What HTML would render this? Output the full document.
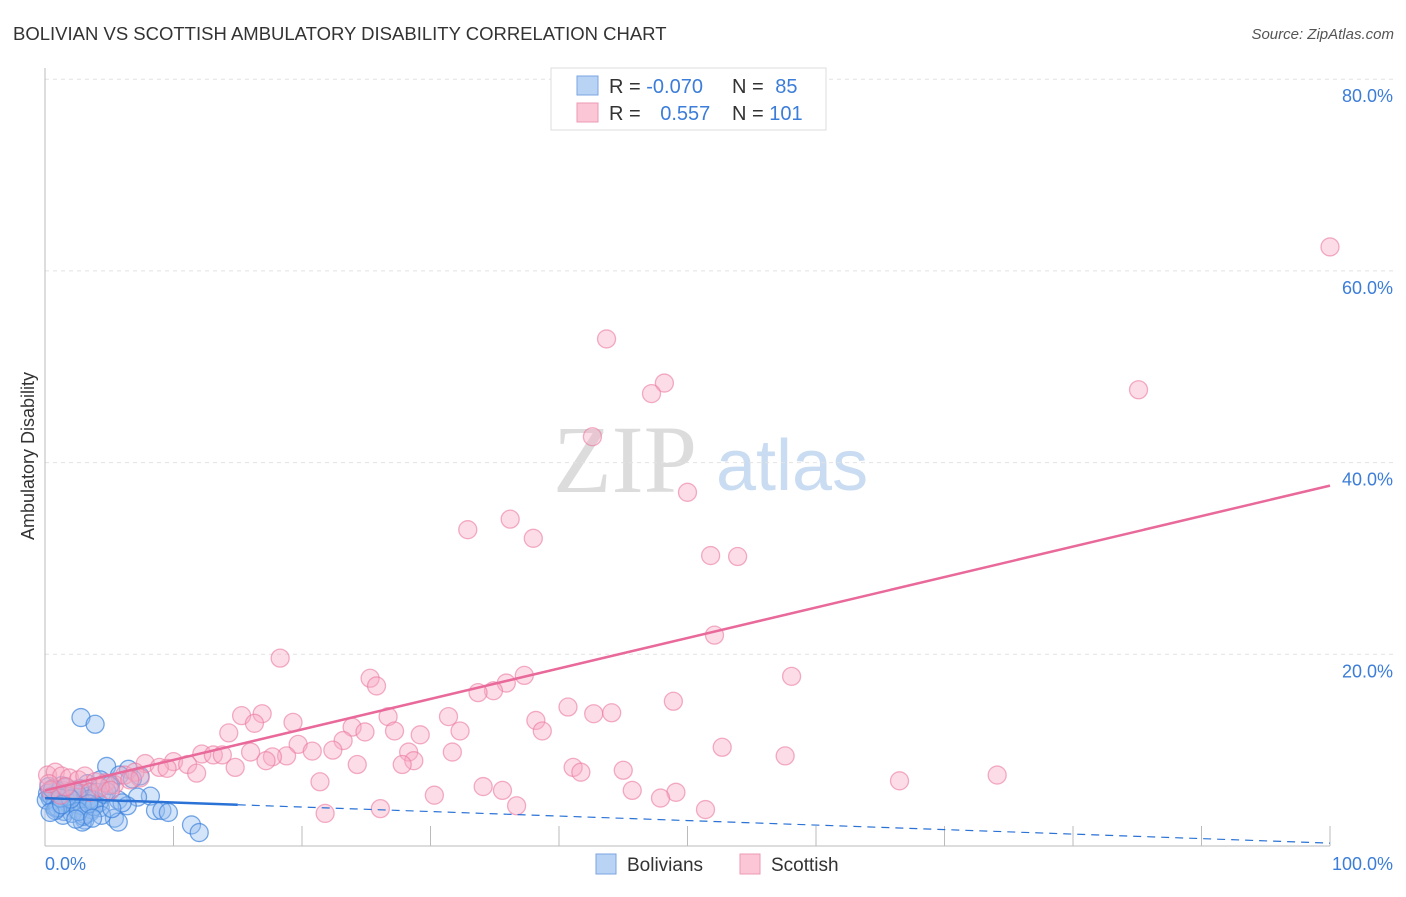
<!DOCTYPE html>
<html><head><meta charset="utf-8"><style>
body{margin:0;background:#fff;font-family:"Liberation Sans",sans-serif}
</style></head><body>
<svg id="chart" width="1406" height="892" xmlns="http://www.w3.org/2000/svg" font-family="Liberation Sans, sans-serif">
<text x="13" y="40" font-size="18.5" fill="#333">BOLIVIAN VS SCOTTISH AMBULATORY DISABILITY CORRELATION CHART</text>
<text x="1394" y="39" font-size="15" fill="#555" font-style="italic" text-anchor="end">Source: ZipAtlas.com</text>
<g>
<text x="553" y="492" font-size="96" font-family="Liberation Serif, serif" fill="#dcdcdc">ZIP</text>
<text x="716" y="490" font-size="72" fill="#c9dcf2">atlas</text>
</g>
<g id="grid"></g>
<g id="axes"></g>
<g id="pts"></g>
<g id="lines"></g>
<text transform="translate(34,456) rotate(-90)" font-size="18" fill="#333" text-anchor="middle">Ambulatory Disability</text>
<text x="45" y="870" font-size="18" fill="#3b7dd8">0.0%</text>
<text x="1393" y="870" font-size="18" fill="#3b7dd8" text-anchor="end">100.0%</text>
<g>
<rect x="551" y="68" width="275" height="62" fill="#fff" stroke="#ddd"/>
<rect x="577" y="76" width="21" height="19" fill="#b9d3f5" stroke="#7aa6e0"/>
<rect x="577" y="103" width="21" height="19" fill="#fbc6d5" stroke="#ee9ab5"/>
<text x="609" y="93" font-size="20" fill="#333">R = <tspan fill="#3b7dd8">-0.070</tspan></text>
<text x="732" y="93" font-size="20" fill="#333">N = <tspan fill="#3b7dd8" dx="6">85</tspan></text>
<text x="609" y="120" font-size="20" fill="#333">R = <tspan fill="#3b7dd8" dx="14">0.557</tspan></text>
<text x="732" y="120" font-size="20" fill="#333">N = <tspan fill="#3b7dd8">101</tspan></text>
</g>
<g>
<rect x="596" y="854" width="20" height="20" fill="#b9d3f5" stroke="#7aa6e0"/>
<text x="627" y="871" font-size="19" fill="#333">Bolivians</text>
<rect x="740" y="854" width="20" height="20" fill="#fbc6d5" stroke="#ee9ab5"/>
<text x="771" y="871" font-size="19" fill="#333">Scottish</text>
</g>
</svg>
<script>
const yTicks=[20,40,60,80];
const yTickLabels=["20.0%","40.0%","60.0%","80.0%"];
const xTicks=[10,20,30,40,50,60,70,80,90,100];
const scottishX=[100,43.7,48.2,47.2,85.1,42.6,50,36.2,32.9,38,51.8,53.9,52.1,18.3,37.3,58.1,25.3,25.8,35.9,34.9,33.7,48.9,40.7,16.9,15.3,42.7,44.1,31.4,26.7,16.3,19.3,38.2,23.9,14.3,32.3,38.7,24.9,27.2,29.2,23.2,19.7,22.4,20.8,52.7,57.6,31.7,28.3,16,12.2,13.1,13.8,18.8,17.7,17.2,28.7,27.8,24.3,10,11.1,7.8,8.9,14.8,11.8,41.1,41.7,45,74.1,66.5,21.4,34.1,35.6,45.7,49.1,47.9,30.3,36.7,26.1,21.8,51.4,0.2,0.8,1.3,1.9,2.6,3.1,3.9,4.7,5.4,6.2,7,7.4,0.4,1.2,2.3,3.5,4.3,5.1,0.3,1.6,6.6,9.5];
const scottishY=[62.5,52.9,48.3,47.2,47.6,42.7,36.9,34.1,33,32.1,30.3,30.2,22,19.6,17.8,17.7,17.5,16.7,17,16.2,16,15.1,14.5,13.8,13.6,13.8,13.9,13.5,13.5,12.8,12.9,13.1,12.4,11.8,12,12,11.9,12,11.6,11,10.6,10,9.9,10.3,9.4,9.8,9.8,9.8,9.6,9.5,9.5,9.4,9.3,8.9,8.9,8.5,8.5,8.8,8.5,8.6,8.2,8.2,7.6,8.2,7.7,7.9,7.4,6.8,6.7,6.2,5.8,5.8,5.6,5,5.3,4.2,3.9,3.4,3.8,7.4,7.7,7.3,7.1,6.9,7.3,6.7,6.6,6.4,7.4,7.7,7.1,5.8,5.3,5.8,5.6,6.1,5.8,6.5,6.2,6.9,8.1];
const bolivX=[2.8,3.9,4.8,6.5,7.4,5.8,4.3,3.3,5.1,8.2,7.2,5.7,6.4,4.3,3.5,8.6,9.1,9.6,11.4,12,5.4,5.7,3.1,2.9,0.2,0.4,0.6,0.8,1,1.2,1.4,1.6,1.8,2,2.2,2.4,2.6,3,3.2,3.4,3.6,3.8,4,4.2,0.3,0.7,1.1,1.5,1.9,2.3,2.7,3.1,3.5,0.5,0.9,1.3,1.7,2.1,2.5,2.9,0.1,0.6,1.4,2.2,3,3.8,4.6,5,1,1.8,2.6,3.4,4.4,0.8,1.6,2.4,4.8,6,6.8,1.2,2,0.4,5.2,3.7,1.3];
const bolivY=[13.4,12.7,8.3,8,7.3,7.4,6.9,6.5,6.4,5.2,5.1,4.8,4.2,4,3.5,3.7,3.7,3.5,2.2,1.4,2.9,2.5,2.7,2.5,5.5,5,6,4.6,5.3,4.2,5.8,4.9,4.4,5.5,3.9,5.1,4.7,5.9,4.3,5.2,3.8,4.8,5.6,4.5,6.2,4.1,5.7,3.6,5,4.4,6,3.3,4.9,5.2,3.9,6.3,4.6,3.4,5.4,4.2,4.8,5.9,3.2,5.8,3.1,4.1,5.4,6.3,4,5.2,3.6,4.4,3.2,3.7,6.1,2.8,5.7,4.5,7,5,4.9,3.5,3.9,2.9,4.3];
const pinkLine=[0,5.8,100,37.6];
const blueLine=[0,5.0,15,4.3,100,0.3];
const X=v=>45+v*12.85, Y=v=>846-v*9.585;
const NS="http://www.w3.org/2000/svg";
function mk(p,t,a){const e=document.createElementNS(NS,t);for(const k in a)e.setAttribute(k,a[k]);p.appendChild(e);return e;}
const grid=document.getElementById('grid'),axes=document.getElementById('axes'),lines=document.getElementById('lines'),pts=document.getElementById('pts');
yTicks.forEach((t,i)=>{
 const l=mk(grid,'line',{x1:45,x2:1393,y1:Y(t),y2:Y(t),stroke:'#e2e2e2','stroke-dasharray':'4,4'});
 
 
 const tx=mk(grid,'text',{x:1393,y:Y(t)+23,'font-size':18,fill:'#3b7dd8','text-anchor':'end'});
 tx.textContent=yTickLabels[i];
 
 
});
let a=mk(axes,'line',{x1:45,x2:45,y1:68,y2:846,stroke:'#bbb'});


a=mk(axes,'line',{x1:45,x2:1330,y1:846,y2:846,stroke:'#bbb'});


xTicks.forEach(t=>{const e=mk(axes,'line',{x1:X(t),x2:X(t),y1:826,y2:846,stroke:'#bbb'});
 
 });
bolivX.forEach((x,i)=>{const c=mk(pts,'circle',{cx:X(x),cy:Y(bolivY[i]),r:9,fill:'rgba(150,190,240,0.4)',stroke:'rgba(60,130,220,0.7)','stroke-width':1.3});
 
 });
scottishX.forEach((x,i)=>{const c=mk(pts,'circle',{cx:X(x),cy:Y(scottishY[i]),r:9,fill:'rgba(248,170,195,0.4)',stroke:'rgba(235,120,160,0.6)','stroke-width':1.3});
 
 });
let ln=mk(lines,'line',{x1:X(pinkLine[0]),y1:Y(pinkLine[1]),x2:X(pinkLine[2]),y2:Y(pinkLine[3]),stroke:'#e8699a','stroke-width':2.5});


ln=mk(lines,'line',{x1:X(blueLine[0]),y1:Y(blueLine[1]),x2:X(blueLine[2]),y2:Y(blueLine[3]),stroke:'#2a72d6','stroke-width':2.5});


ln=mk(lines,'line',{x1:X(blueLine[2]),y1:Y(blueLine[3]),x2:X(blueLine[4]),y2:Y(blueLine[5]),stroke:'#2a72d6','stroke-width':1.2,'stroke-dasharray':'8,6'});


</script>
</body></html>
